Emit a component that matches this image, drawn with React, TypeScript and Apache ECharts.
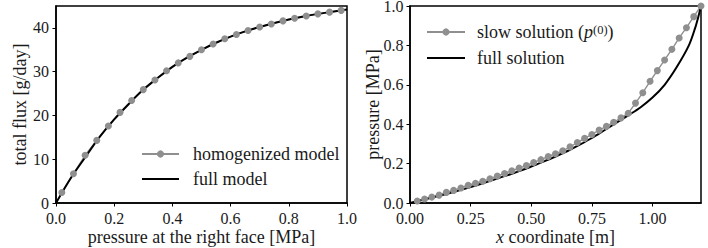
import React, { useEffect, useRef } from "react";
import * as echarts from "echarts";

// Left panel: total flux vs pressure at the right face
const homX = [0.02, 0.06, 0.1, 0.14, 0.18, 0.22, 0.26, 0.3, 0.34, 0.38, 0.42, 0.46, 0.5, 0.54, 0.58, 0.62, 0.66, 0.7, 0.74, 0.78, 0.82, 0.86, 0.9, 0.94, 0.98];
const homY = [2.4, 6.7, 10.9, 14.3, 17.6, 20.7, 23.4, 25.9, 28.1, 30.2, 32.0, 33.5, 35.0, 36.3, 37.5, 38.5, 39.4, 40.2, 40.9, 41.6, 42.2, 42.7, 43.2, 43.6, 44.0];
const fullModelX = [0, 0.05, 0.1, 0.15, 0.2, 0.25, 0.3, 0.35, 0.4, 0.45, 0.5, 0.55, 0.6, 0.65, 0.7, 0.75, 0.8, 0.85, 0.9, 0.95, 1.0];
const fullModelY = [0, 5.6, 10.4, 15.1, 19.1, 22.6, 25.9, 28.6, 31.1, 33.2, 35.0, 36.6, 38.0, 39.2, 40.2, 41.1, 41.9, 42.6, 43.2, 43.7, 44.2];

// Right panel: pressure vs x coordinate
const slowX = [0.03, 0.06, 0.09, 0.12, 0.15, 0.18, 0.21, 0.24, 0.27, 0.3, 0.33, 0.36, 0.39, 0.42, 0.45, 0.48, 0.51, 0.54, 0.57, 0.6, 0.63, 0.66, 0.69, 0.72, 0.75, 0.78, 0.81, 0.84, 0.87, 0.9, 0.93, 0.96, 0.99, 1.02, 1.05, 1.08, 1.11, 1.14, 1.17, 1.2];
const slowY = [0.01, 0.02, 0.03, 0.04, 0.054, 0.064, 0.076, 0.09, 0.1, 0.11, 0.123, 0.137, 0.15, 0.164, 0.177, 0.19, 0.206, 0.22, 0.236, 0.25, 0.265, 0.285, 0.307, 0.328, 0.348, 0.37, 0.389, 0.41, 0.432, 0.456, 0.507, 0.56, 0.618, 0.672, 0.726, 0.78, 0.838, 0.89, 0.946, 1.0];
const fullSolX = [0, 0.05, 0.1, 0.15, 0.2, 0.25, 0.3, 0.35, 0.4, 0.45, 0.5, 0.55, 0.6, 0.65, 0.7, 0.75, 0.8, 0.85, 0.9, 0.95, 1.0, 1.05, 1.1, 1.15, 1.175, 1.19, 1.2];
const fullSolY = [0, 0.015, 0.03, 0.046, 0.063, 0.081, 0.1, 0.12, 0.14, 0.162, 0.185, 0.21, 0.236, 0.264, 0.296, 0.33, 0.368, 0.406, 0.445, 0.485, 0.535, 0.6, 0.69, 0.8, 0.885, 0.95, 1.0];

const FONT = "Liberation Serif";
const FS = 18;
const TICK_FS = 16;
const TXT = "#1a1a1a";
const GRAY = "#8f8f8f";

function zip(xs: number[], ys: number[]) {
  return xs.map((x, i) => [x, ys[i]]);
}

export default function App() {
  const ref = useRef<HTMLDivElement>(null);
  useEffect(() => {
    if (!ref.current) return;
    const chart = echarts.init(ref.current, undefined, { renderer: "svg" });
    const axisCommon = {
      axisLine: { show: true, onZero: false, lineStyle: { color: "#000", width: 1.5 } },
      axisTick: { show: true, inside: false, length: 3.5, lineStyle: { color: "#000", width: 1 } },
      splitLine: { show: false },
      nameLocation: "middle" as const,
      nameMoveOverlap: false,
      nameTextStyle: { fontFamily: FONT, fontSize: FS, color: TXT },
    };
    const labelStyle = { fontFamily: FONT, fontSize: TICK_FS, color: TXT };
    const hideDot = { itemStyle: { opacity: 0 } };
    const gridCommon = {
      top: 6,
      width: 291,
      height: 197,
      show: true,
      borderColor: "#000",
      borderWidth: 1.5,
      backgroundColor: "transparent",
      containLabel: false,
      outerBoundsMode: "none",
    };
    chart.setOption({
      animation: false,
      backgroundColor: "#fff",
      textStyle: { fontFamily: FONT },
      grid: [
        { ...gridCommon, left: 56 },
        { ...gridCommon, left: 410 },
      ],
      xAxis: [
        {
          ...axisCommon,
          type: "value",
          gridIndex: 0,
          min: 0,
          max: 1,
          interval: 0.2,
          name: "pressure at the right face [MPa]",
          nameGap: 24.5,
          axisLabel: { ...labelStyle, margin: 7, formatter: (v: number) => v.toFixed(1) },
        },
        {
          ...axisCommon,
          type: "value",
          gridIndex: 1,
          min: 0,
          max: 1.2,
          interval: 0.25,
          name: "{i|x} coordinate [m]",
          nameGap: 24.5,
          nameTextStyle: {
            ...axisCommon.nameTextStyle,
            rich: { i: { fontFamily: FONT, fontSize: FS, fontStyle: "italic", color: TXT } },
          },
          axisLabel: { ...labelStyle, margin: 7, formatter: (v: number) => v.toFixed(2), showMaxLabel: false },
        },
      ],
      yAxis: [
        {
          ...axisCommon,
          type: "value",
          gridIndex: 0,
          min: 0,
          max: 45,
          interval: 10,
          name: "total flux [g/day]",
          nameGap: 27,
          axisLabel: { ...labelStyle, margin: 7, showMaxLabel: false },
        },
        {
          ...axisCommon,
          type: "value",
          gridIndex: 1,
          min: 0,
          max: 1,
          interval: 0.2,
          name: "pressure [MPa]",
          nameGap: 28.5,
          axisLabel: { ...labelStyle, margin: 6.5, formatter: (v: number) => v.toFixed(1) },
        },
      ],
      legend: [
        {
          orient: "vertical",
          left: 141,
          top: 145,
          padding: 0,
          itemWidth: 37,
          itemHeight: 9,
          itemGap: 7,
          data: ["homogenized model", { name: "full model", ...hideDot }],
          textStyle: { fontFamily: FONT, fontSize: FS, color: TXT, lineHeight: 18, padding: [0, 0, 0, 9] },
        },
        {
          orient: "vertical",
          left: 426,
          top: 23,
          padding: 0,
          itemWidth: 38,
          itemHeight: 9,
          itemGap: 8,
          data: ["slow solution", { name: "full solution", ...hideDot }],
          formatter: (name: string) =>
            name === "slow solution" ? "slow solution ({i|p}{s|(0)})" : name,
          textStyle: {
            fontFamily: FONT,
            fontSize: FS,
            color: TXT,
            lineHeight: 18,
            padding: [0, 0, 0, 7],
            rich: {
              i: { fontFamily: FONT, fontSize: FS, fontStyle: "italic", color: TXT, lineHeight: 18 },
              s: { fontFamily: FONT, fontSize: 12.5, color: TXT, verticalAlign: "top", lineHeight: 18 },
            },
          },
        },
      ],
      series: [
        {
          name: "homogenized model",
          type: "line",
          xAxisIndex: 0,
          yAxisIndex: 0,
          data: zip(homX, homY),
          symbol: "circle",
          symbolSize: 7,
          itemStyle: { color: GRAY },
          lineStyle: { color: GRAY, width: 1.4 },
        },
        {
          name: "full model",
          type: "line",
          xAxisIndex: 0,
          yAxisIndex: 0,
          data: zip(fullModelX, fullModelY),
          smooth: 0.3,
          symbol: "none",
          itemStyle: { color: "#000" },
          lineStyle: { color: "#000", width: 2 },
        },
        {
          name: "slow solution",
          type: "line",
          xAxisIndex: 1,
          yAxisIndex: 1,
          data: zip(slowX, slowY),
          symbol: "circle",
          symbolSize: 7,
          itemStyle: { color: GRAY },
          lineStyle: { color: GRAY, width: 1.4 },
        },
        {
          name: "full solution",
          type: "line",
          xAxisIndex: 1,
          yAxisIndex: 1,
          data: zip(fullSolX, fullSolY),
          smooth: 0.3,
          symbol: "none",
          itemStyle: { color: "#000" },
          lineStyle: { color: "#000", width: 2 },
        },
      ],
    });
    return () => chart.dispose();
  }, []);
  return (
    <div
      ref={ref}
      style={{ position: "absolute", left: 0, top: 0, width: 708, height: 248 }}
    />
  );
}
